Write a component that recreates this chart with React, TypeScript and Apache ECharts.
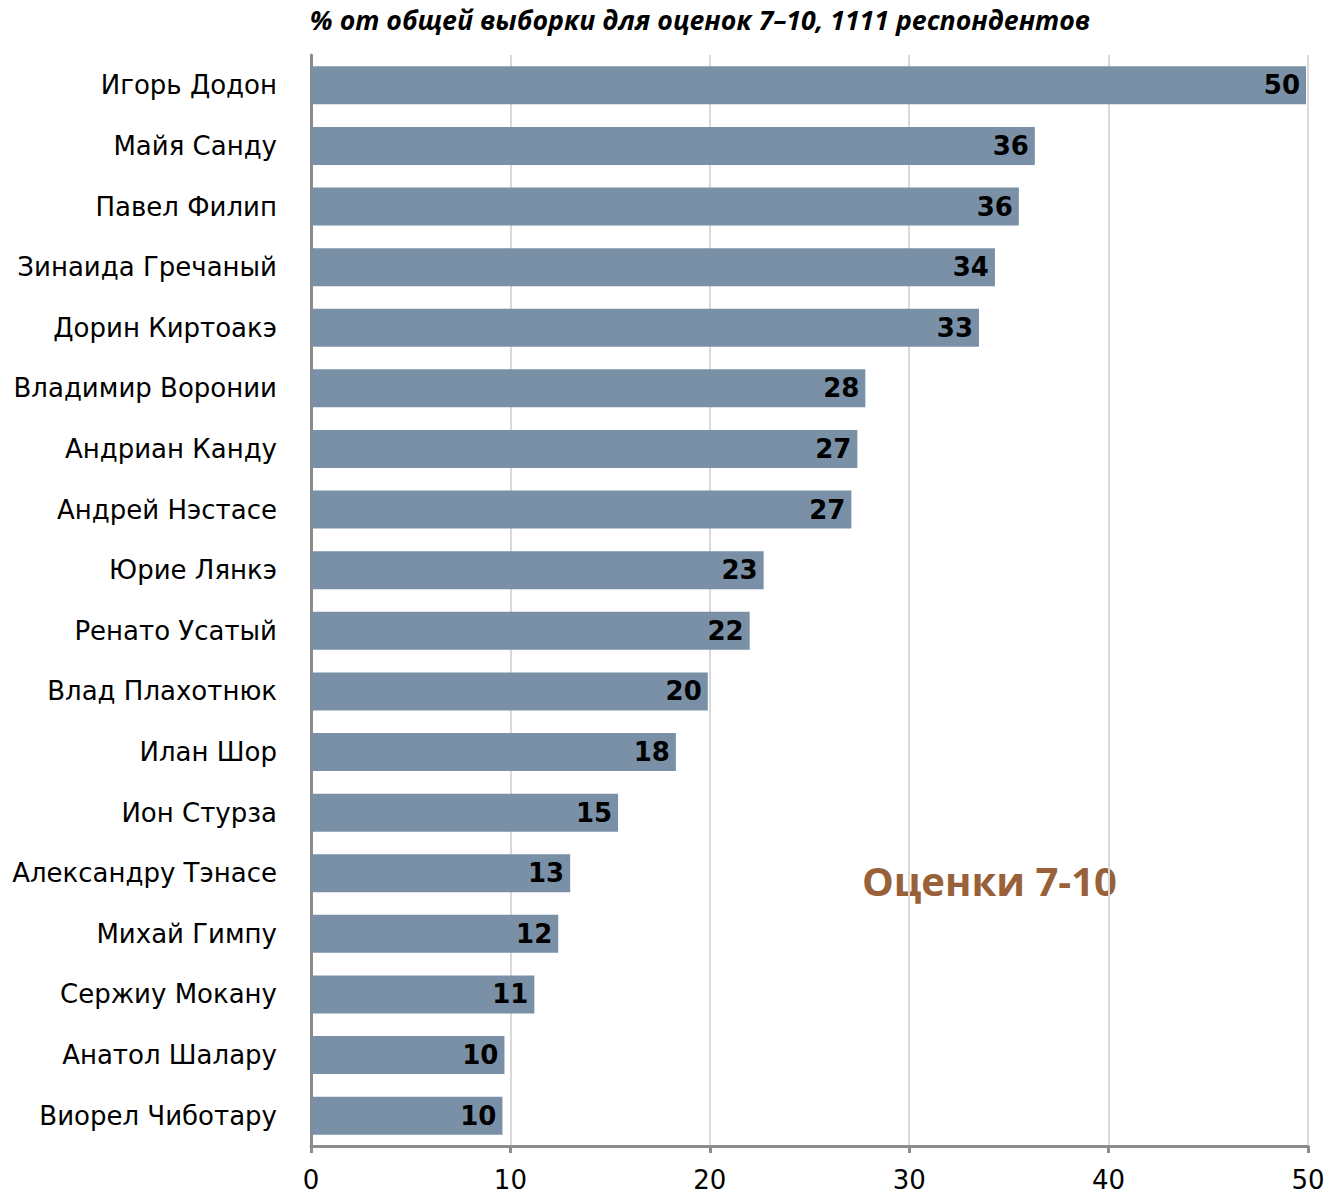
import React, { useEffect, useRef } from "react";
import * as echarts from "echarts";

const categories = [
  "Игорь Додон",
  "Майя Санду",
  "Павел Филип",
  "Зинаида Гречаный",
  "Дорин Киртоакэ",
  "Владимир Воронии",
  "Андриан Канду",
  "Андрей Нэстасе",
  "Юрие Лянкэ",
  "Ренато Усатый",
  "Влад Плахотнюк",
  "Илан Шор",
  "Ион Стурза",
  "Александру Тэнасе",
  "Михай Гимпу",
  "Сержиу Мокану",
  "Анатол Шалару",
  "Виорел Чиботару",
];

const values = [49.9, 36.3, 35.5, 34.3, 33.5, 27.8, 27.4, 27.1, 22.7, 22.0, 19.9, 18.3, 15.4, 13.0, 12.4, 11.2, 9.7, 9.6];
const valueLabels = ["50", "36", "36", "34", "33", "28", "27", "27", "23", "22", "20", "18", "15", "13", "12", "11", "10", "10"];

const xTicks = [0, 10, 20, 30, 40, 50];

const titleText = "% от общей выборки для оценок 7–10, 1111 респондентов";
const noteText = "Оценки 7-10";

export default function App() {
  const ref = useRef<HTMLDivElement>(null);
  useEffect(() => {
    if (!ref.current) return;
    const chart = echarts.init(ref.current, null, { renderer: "svg" });
    chart.setOption({
      animation: false,
      backgroundColor: "#ffffff",
      title: {
        text: titleText,
        left: 700,
        textAlign: "center",
        top: 6,
        padding: 0,
        textStyle: {
          fontFamily: "Open Sans",
          fontStyle: "italic",
          fontWeight: "bold",
          fontSize: 26.7,
          color: "#000000",
        },
      },
      graphic: [
        {
          type: "text",
          left: 862,
          top: 860,
          style: {
            text: noteText,
            fontFamily: "Open Sans",
            fontWeight: "bold",
            fontSize: 40,
            fill: "#98613a",
          },
        },
      ],
      grid: { left: 311, right: 25, top: 55, bottom: 48, containLabel: false, outerBoundsMode: "none" },
      xAxis: {
        type: "value",
        min: xTicks[0],
        max: xTicks[xTicks.length - 1],
        interval: 10,
        axisLine: { show: true, lineStyle: { color: "#8c8c8c", width: 3 } },
        axisTick: { show: true, length: 7, lineStyle: { color: "#8c8c8c", width: 3 } },
        splitLine: { show: true, lineStyle: { color: "#d9d9d9", width: 2 } },
        axisLabel: {
          fontFamily: "DejaVu Sans",
          fontSize: 26,
          lineHeight: 26,
          color: "#000000",
          margin: 21,
        },
      },
      yAxis: {
        type: "category",
        inverse: true,
        data: categories,
        axisLine: { show: true, lineStyle: { color: "#8c8c8c", width: 3 } },
        axisTick: { show: false },
        axisLabel: {
          fontFamily: "DejaVu Sans",
          fontSize: 26,
          color: "#000000",
          margin: 34,
        },
      },
      series: [
        {
          type: "bar",
          data: values,
          barWidth: 38,
          itemStyle: { color: "#7990a7" },
          label: {
            show: true,
            position: "insideRight",
            distance: 6,
            formatter: (p: any) => valueLabels[p.dataIndex],
            fontFamily: "DejaVu Sans",
            fontWeight: "bold",
            fontSize: 26,
            color: "#000000",
          },
        },
      ],
    });
    return () => chart.dispose();
  }, []);
  return (
    <div
      ref={ref}
      style={{ position: "absolute", left: 0, top: 0, width: 1333, height: 1194 }}
    />
  );
}
